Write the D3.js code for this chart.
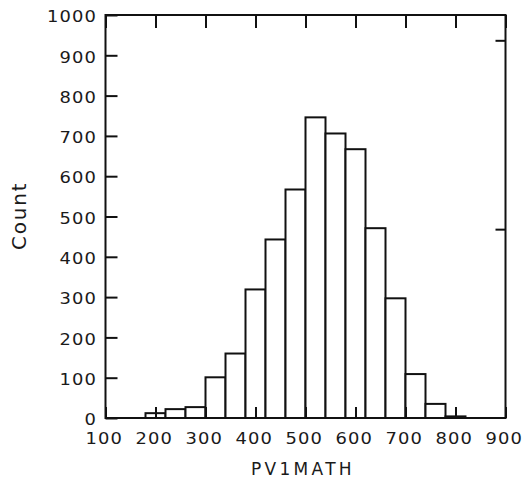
<!DOCTYPE html>
<html>
<head>
<meta charset="utf-8">
<script src="https://cdn.jsdelivr.net/npm/d3@7"></script>
<style>
  html, body { margin: 0; padding: 0; background: #ffffff; }
  svg { display: block; }
  text { font-family: "DejaVu Sans", Verdana, sans-serif; fill: #1a1a1a; }
</style>
</head>
<body>
<svg id="chart" width="523" height="483"></svg>
<script>
// ---- data ----
const binStarts = [180, 220, 260, 300, 340, 380, 420, 460, 500, 540, 580, 620, 660, 700, 740, 780];
const binWidth = 40;
const counts = [12, 22, 27, 101, 160, 319, 443, 567, 746, 706, 667, 471, 297, 109, 35, 4];
const xTicks = [100, 200, 300, 400, 500, 600, 700, 800, 900];
const yTicks = [0, 100, 200, 300, 400, 500, 600, 700, 800, 900, 1000];
const propTicks = [0.1, 0.2];
const xTitle = "PV1MATH";
const yTitle = "Count";

const svg = d3.select("#chart");
const L = 105.5, R = 505.5, T = 15, B = 418;
const ink = "#111111";
const SX = 1.12; // horizontal stretch of the wide bitmap-like digits

const x = d3.scaleLinear().domain([100, 900]).range([L, R]);
const y = d3.scaleLinear().domain([0, 1000]).range([B, T]);
const total = d3.sum(counts);
const yProp = d3.scaleLinear().domain([0, 1000 / total]).range([B, T]);

// bars
svg.append("g").selectAll("rect")
  .data(binStarts.map((s, i) => ({ s, c: counts[i] })))
  .join("rect")
  .attr("x", d => x(d.s))
  .attr("width", d => x(d.s + binWidth) - x(d.s))
  .attr("y", d => y(d.c))
  .attr("height", d => y(0) - y(d.c))
  .attr("fill", "#ffffff")
  .attr("stroke", ink)
  .attr("stroke-width", 2);

// axes
function style(g) {
  g.select(".domain").remove();
  g.selectAll(".tick line").attr("stroke", ink).attr("stroke-width", 2);
  g.selectAll(".tick text")
    .attr("fill", "#1a1a1a")
    .style("font-size", "16px")
    .style("letter-spacing", "1px");
}

svg.append("g")
  .attr("transform", `translate(0,${B})`)
  .call(d3.axisBottom(x).tickValues(xTicks).tickSize(-11).tickPadding(15).tickFormat(d3.format("d")))
  .call(style)
  .call(g => g.selectAll(".tick text")
    .attr("x", -1.6)
    .attr("transform", `scale(${SX},1)`));

svg.append("g")
  .attr("transform", `translate(${L},0)`)
  .call(d3.axisLeft(y).tickValues(yTicks).tickSize(-12).tickPadding(6).tickFormat(d3.format("d")))
  .call(style)
  .call(g => g.selectAll(".tick text")
    .attr("x", -8.5 / SX)
    .attr("dy", "0.42em")
    .attr("transform", `scale(${SX},1)`));

svg.append("g")
  .attr("transform", `translate(0,${T})`)
  .call(d3.axisTop(x).tickValues(xTicks).tickSize(-13).tickFormat(""))
  .call(style);

svg.append("g")
  .attr("transform", `translate(${R},0)`)
  .call(d3.axisRight(yProp).tickValues(propTicks).tickSize(-10).tickFormat(""))
  .call(style);

// frame
svg.append("rect")
  .attr("x", L).attr("y", T)
  .attr("width", R - L).attr("height", B - T)
  .attr("fill", "none")
  .attr("stroke", ink)
  .attr("stroke-width", 2);

// titles
svg.append("text")
  .attr("x", 303).attr("y", 475)
  .attr("text-anchor", "middle")
  .style("font-size", "17px")
  .style("letter-spacing", "3.3px")
  .text(xTitle);

svg.append("text")
  .attr("transform", "translate(26,215.8) rotate(-90)")
  .attr("text-anchor", "middle")
  .style("font-size", "20px")
  .style("letter-spacing", "1.8px")
  .text(yTitle);
</script>
</body>
</html>
